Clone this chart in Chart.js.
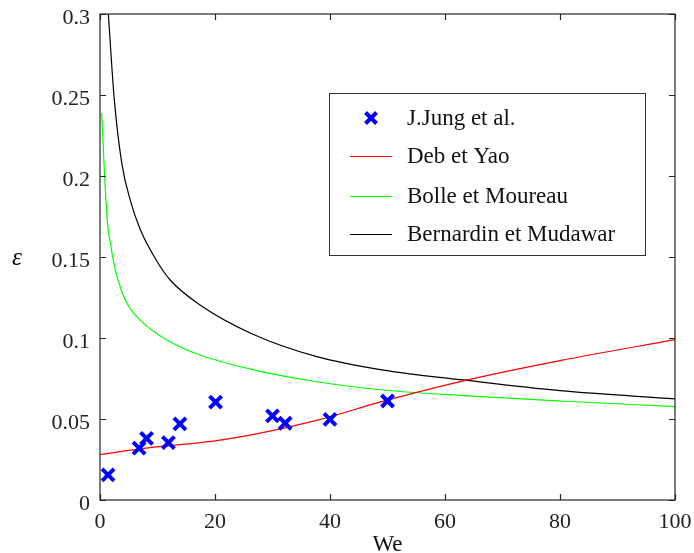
<!DOCTYPE html>
<html>
<head>
<meta charset="utf-8">
<script src="https://cdn.jsdelivr.net/npm/chart.js@4/dist/chart.umd.min.js"></script>
<style>
  html, body { margin: 0; padding: 0; background: #fff; }
  #wrap { width: 694px; height: 553px; position: relative; }
</style>
</head>
<body>
<div id="wrap"><canvas id="chart"></canvas></div>
<script>
// J.Jung et al. measurements
const weJung = [1.4, 6.8, 8.1, 11.9, 13.9, 20.1, 30.0, 32.2, 40, 50];
const epsJung = [0.0155, 0.032, 0.038, 0.0354, 0.047, 0.0604, 0.0519, 0.0474, 0.0498, 0.0611];

// correlations
const weDeb = [0, 8, 19.7, 26.1, 37.5, 49.3, 63.2, 80, 100];
const epsDeb = [0.028, 0.032, 0.0364, 0.040, 0.049, 0.061, 0.0735, 0.086, 0.099];

const weBolle = [0.29, 0.75, 0.87, 1.33, 1.74, 2.6, 4.4, 7.0, 11.6, 17.4, 26.5, 37.7, 49.3, 63.2, 80, 100];
const epsBolle = [0.239, 0.204, 0.195, 0.170, 0.160, 0.143, 0.1235, 0.111, 0.0988, 0.0895, 0.0805, 0.073, 0.0679, 0.0644, 0.0611, 0.0577];

const weBern = [1.45, 2.49, 3.83, 5.27, 7.0, 9.8, 12.2, 17.4, 26.5, 37.7, 49.3, 63.2, 80, 100];
const epsBern = [0.3, 0.247, 0.207, 0.185, 0.167, 0.148, 0.1358, 0.1204, 0.1025, 0.0885, 0.0802, 0.0741, 0.0675, 0.0624];

const xTicks = [0, 20, 40, 60, 80, 100];
const yTicks = [0, 0.05, 0.1, 0.15, 0.2, 0.25, 0.3];

const seriesNames = ["J.Jung et al.", "Deb et Yao", "Bolle et Moureau", "Bernardin et Mudawar"];

const FONT = "'Liberation Serif', 'Times New Roman', serif";
const AXIS_COLOR = "#262626";

function toPoints(xs, ys) {
  return xs.map((x, i) => ({ x: x, y: ys[i] }));
}

function lineSet(label, xs, ys, color) {
  return {
    label: label,
    type: "line",
    data: toPoints(xs, ys),
    borderColor: color,
    backgroundColor: color,
    borderWidth: 1.2,
    pointRadius: 0,
    cubicInterpolationMode: "monotone",
    fill: false,
  };
}

// frame + inward ticks on all four sides (matlab style)
const framePlugin = {
  id: "frame",
  afterDatasetsDraw(chart) {
    const { ctx, chartArea: a, scales } = chart;
    ctx.save();
    ctx.strokeStyle = AXIS_COLOR;
    ctx.lineWidth = 1.2;
    ctx.strokeRect(a.left, a.top, a.right - a.left, a.bottom - a.top);
    const len = 6;
    ctx.beginPath();
    xTicks.forEach((v) => {
      const px = Math.round(scales.x.getPixelForValue(v)) + 0.5;
      ctx.moveTo(px, a.bottom); ctx.lineTo(px, a.bottom - len);
      ctx.moveTo(px, a.top); ctx.lineTo(px, a.top + len);
    });
    yTicks.forEach((v) => {
      const py = Math.round(scales.y.getPixelForValue(v)) + 0.5;
      ctx.moveTo(a.left, py); ctx.lineTo(a.left + len, py);
      ctx.moveTo(a.right, py); ctx.lineTo(a.right - len, py);
    });
    ctx.stroke();

    // y axis symbol, upright
    ctx.fillStyle = "#000";
    ctx.font = "italic 25px " + FONT;
    ctx.textAlign = "center";
    ctx.textBaseline = "middle";
    ctx.fillText("\u03b5", 17, 258);
    ctx.restore();
  },
};

// legend box inside the plot
const legendPlugin = {
  id: "boxLegend",
  afterDraw(chart) {
    const { ctx } = chart;
    const box = { x: 329.5, y: 93.5, w: 316, h: 162 };
    const rows = [118, 156, 196, 234];
    ctx.save();
    ctx.fillStyle = "#fff";
    ctx.fillRect(box.x, box.y, box.w, box.h);
    ctx.strokeStyle = "#333";
    ctx.lineWidth = 1;
    ctx.strokeRect(box.x, box.y, box.w, box.h);
    chart.data.datasets.forEach((ds, i) => {
      const y = rows[i];
      if (ds.type === "scatter") {
        ctx.strokeStyle = ds.borderColor;
        ctx.lineWidth = 4;
        const r = 5.5;
        ctx.beginPath();
        ctx.moveTo(371 - r, y - r); ctx.lineTo(371 + r, y + r);
        ctx.moveTo(371 - r, y + r); ctx.lineTo(371 + r, y - r);
        ctx.stroke();
      } else {
        ctx.strokeStyle = ds.borderColor;
        ctx.lineWidth = 1.2;
        ctx.beginPath();
        ctx.moveTo(350, y + 0.5); ctx.lineTo(392, y + 0.5);
        ctx.stroke();
      }
      ctx.fillStyle = "#111";
      ctx.font = "23px " + FONT;
      ctx.textAlign = "left";
      ctx.textBaseline = "middle";
      ctx.fillText(ds.label, 407, y + 1);
    });
    ctx.restore();
  },
};

new Chart(document.getElementById("chart"), {
  data: {
    datasets: [
      {
        label: seriesNames[0],
        type: "scatter",
        data: toPoints(weJung, epsJung),
        pointStyle: "crossRot",
        pointRadius: 8.5,
        pointHoverRadius: 8.5,
        borderWidth: 4,
        borderColor: "#0000ff",
        backgroundColor: "#0000ff",
      },
      lineSet(seriesNames[1], weDeb, epsDeb, "#ff0000"),
      lineSet(seriesNames[2], weBolle, epsBolle, "#00ff00"),
      lineSet(seriesNames[3], weBern, epsBern, "#000000"),
    ],
  },
  options: {
    responsive: true,
    maintainAspectRatio: false,
    animation: false,
    events: [],
    layout: { padding: { top: 14, right: 19, left: 0, bottom: 0 } },
    plugins: {
      legend: { display: false },
      tooltip: { enabled: false },
    },
    scales: {
      x: {
        type: "linear",
        min: 0,
        max: 100,
        afterFit(scale) {
          scale.height = 53;
          scale.paddingLeft = 0;
          scale.paddingRight = 0;
        },
        afterBuildTicks(scale) { scale.ticks = xTicks.map((v) => ({ value: v })); },
        grid: { display: false, drawTicks: false },
        border: { display: false },
        ticks: { color: "#222", padding: 9, font: { family: FONT, size: 22 } },
        title: {
          display: true,
          text: "We",
          color: "#111",
          font: { family: FONT, size: 23 },
          padding: { top: 0, bottom: -6 },
        },
      },
      y: {
        type: "linear",
        min: 0,
        max: 0.3,
        afterFit(scale) {
          scale.width = 100;
          scale.paddingTop = 0;
          scale.paddingBottom = 0;
        },
        afterBuildTicks(scale) { scale.ticks = yTicks.map((v) => ({ value: v })); },
        grid: { display: false, drawTicks: false },
        border: { display: false },
        ticks: {
          color: "#222",
          padding: 10,
          labelOffset: 4,
          font: { family: FONT, size: 22 },
          callback: (v) => String(Number(v.toFixed(2))),
        },
      },
    },
  },
  plugins: [framePlugin, legendPlugin],
});
</script>
</body>
</html>
